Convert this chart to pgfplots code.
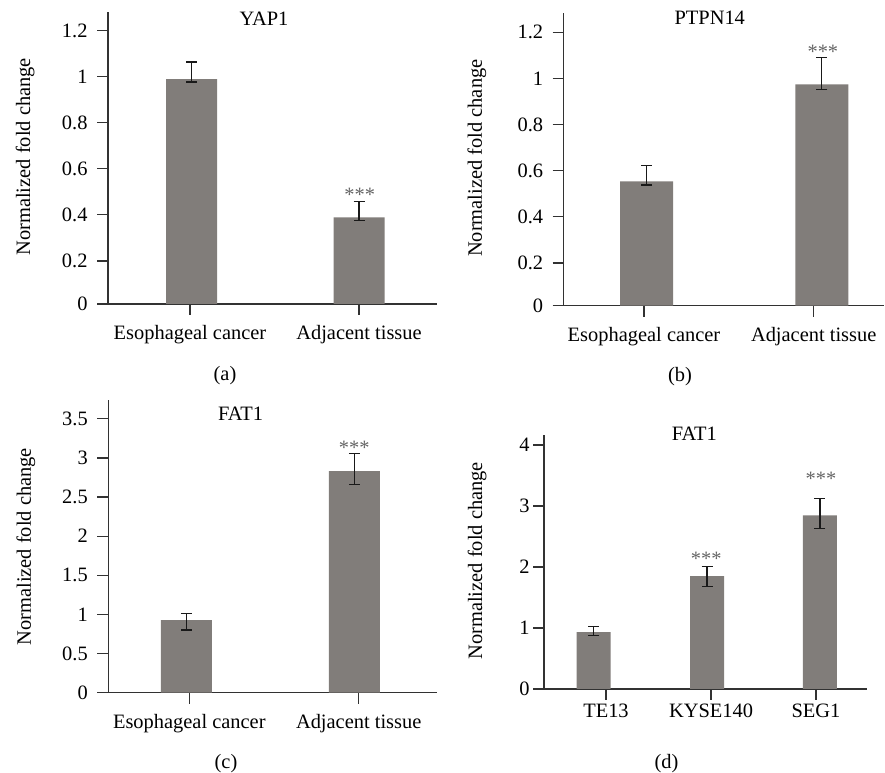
\documentclass[border=0pt]{standalone}
\usepackage{pgfplots}
\pgfplotsset{compat=1.18}
\usepackage{fontspec}
\setmainfont{Liberation Serif}
\definecolor{barc}{RGB}{129,125,122}
\definecolor{axc}{RGB}{50,50,50}
\definecolor{starc}{RGB}{100,100,100}
\pgfplotsset{
  panel/.style={
    scale only axis,
    axis x line*=bottom, axis y line*=left,
    axis line style={axc, line width=1.3bp, -},
    every tick/.style={axc, line width=1.2bp},
    tick align=outside,
    major tick length=11bp,
    ybar, bar shift=0pt,
    font=\fontsize{20.5}{24}\selectfont,
    tick label style={font=\fontsize{20.5}{24}\selectfont},
    /pgf/number format/assume math mode=true,
    ylabel={Normalized fold change},
    clip=false,
  },
  wide/.style={
    xticklabel style={yshift=-7bp},
    yticklabel style={xshift=-6bp},
  },
  barplot/.style={fill=barc, draw=none,
    error bars/.cd, y dir=both, y explicit,
    error bar style={line width=1.3bp, black!90},
    error mark options={rotate=90, mark size=5.5bp, line width=1.3bp, black!90}},
}
\begin{document}
\begin{tikzpicture}
\path[use as bounding box] (0bp,0bp) rectangle (885bp,773bp);

% (a)
\begin{axis}[panel, wide, at={(108bp,469bp)}, anchor=south west, width=329bp, height=292bp,
  xmin=-0.4852, xmax=1.4615, ymin=0.013, ymax=1.281,
  xtick={0,1}, xticklabels={Esophageal cancer, Adjacent tissue},
  ytick={0.013,0.2,0.4,0.6,0.8,1,1.2}, yticklabels={0,0.2,0.4,0.6,0.8,1,1.2},
  bar width=51bp,
  title={YAP1}, title style={at={(axis description cs:0.474,0.954)}, anchor=base, yshift=-6pt},
  ylabel style={at={(axis description cs:-0.252,0.504)}, anchor=center}]
\addplot[barplot] coordinates {(0.01,0.990) += (0,0.074) -= (0,0.013)
  (1.0,0.389) += (0,0.070) -= (0,0.014)};
\node[anchor=base, text=starc] at (axis cs:1.004,0.456) {***};
\end{axis}

% (b)
\begin{axis}[panel, wide, at={(563.7bp,467.3bp)}, anchor=south west, width=320.3bp, height=292.7bp,
  xmin=-0.4732, xmax=1.4143, ymin=0.015, ymax=1.283,
  xtick={0,1}, xticklabels={Esophageal cancer, Adjacent tissue},
  ytick={0.015,0.2,0.4,0.6,0.8,1,1.2}, yticklabels={0,0.2,0.4,0.6,0.8,1,1.2},
  bar width=53bp,
  title={PTPN14}, title style={at={(axis description cs:0.456,0.959)}, anchor=base, yshift=-6pt},
  ylabel style={at={(axis description cs:-0.271,0.504)}, anchor=center}]
\addplot[barplot] coordinates {(0.016,0.554) += (0,0.068) -= (0,0.016)
  (1.048,0.974) += (0,0.116) -= (0,0.021)};
\node[anchor=base, text=starc] at (axis cs:1.054,1.085) {***};
\end{axis}

% (c)
\begin{axis}[panel, wide, at={(108.3bp,80.3bp)}, anchor=south west, width=328.4bp, height=292.7bp,
  xmin=-0.4782, xmax=1.4604, ymin=0, ymax=3.74,
  xtick={0,1}, xticklabels={Esophageal cancer, Adjacent tissue},
  ytick={0,0.5,1,1.5,2,2.5,3,3.5},
  bar width=51bp,
  title={FAT1}, title style={at={(axis description cs:0.403,0.929)}, anchor=base, yshift=-6pt},
  ylabel style={at={(axis description cs:-0.251,0.499)}, anchor=center}]
\addplot[barplot] coordinates {(-0.017,0.928) += (0,0.081) -= (0,0.128)
  (0.974,2.83) += (0,0.23) -= (0,0.17)};
\node[anchor=base, text=starc] at (axis cs:0.974,3.04) {***};
\end{axis}

% (d)
\begin{axis}[panel, at={(544bp,84bp)}, anchor=south west, width=323.3bp, height=254bp,
  xmin=-0.5905, xmax=2.4886, ymin=0, ymax=4.164,
  xtick={0,1,2}, xticklabels={TE13, KYSE140, SEG1},
  ytick={0,1,2,3,4},
  bar width=34bp,
  title={FAT1}, title style={at={(axis description cs:0.465,0.980)}, anchor=base, yshift=-6pt},
  ylabel style={at={(axis description cs:-0.207,0.505)}, anchor=center}]
\addplot[barplot] coordinates {(-0.119,0.934) += (0,0.086) -= (0,0.060)
  (0.962,1.852) += (0,0.153) -= (0,0.175)
  (2.038,2.848) += (0,0.278) -= (0,0.214)};
\node[anchor=base, text=starc] at (axis cs:0.955,2.02) {***};
\node[anchor=base, text=starc] at (axis cs:2.048,3.33) {***};
\end{axis}

\node[font=\fontsize{20.5}{24}\selectfont] at (225bp,397bp) {(a)};
\node[font=\fontsize{20.5}{24}\selectfont] at (680bp,396bp) {(b)};
\node[font=\fontsize{20.5}{24}\selectfont] at (226bp,9bp) {(c)};
\node[font=\fontsize{20.5}{24}\selectfont] at (666.5bp,9.5bp) {(d)};
\end{tikzpicture}
\end{document}
